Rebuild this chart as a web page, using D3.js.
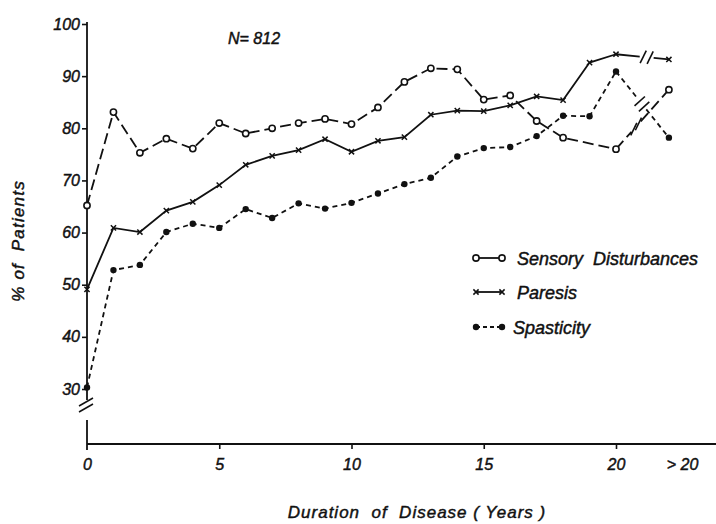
<!DOCTYPE html>
<html>
<head>
<meta charset="utf-8">
<script src="https://cdn.jsdelivr.net/npm/d3@7/dist/d3.min.js"></script>
<style>
  body { margin: 0; background: #fff; }
  text { font-family: "Liberation Sans", Arial, sans-serif; font-style: italic; fill: #111; }
  .heavy { stroke: #111; stroke-width: 0.45px; }
</style>
</head>
<body>
<svg id="chart" width="716" height="524"></svg>
<script>
// Years of disease duration; the last column stands for "> 20"
const years = [0, 1, 2, 3, 4, 5, 6, 7, 8, 9, 10, 11, 12, 13, 14, 15, 16, 17, 18, 19, 20, 22];
const xTickValues = [0, 5, 10, 15, 20, 22.5];
const xTickLabels = ["0", "5", "10", "15", "20", "> 20"];
const yTickValues = [30, 40, 50, 60, 70, 80, 90, 100];

// Percent of patients showing each symptom
const sensory = [65.2, 83.1, 75.3, 78.0, 76.1, 81.0, 79.0, 80.0, 81.0, 81.8, 80.8, 84.0, 88.9, 91.5, 91.3,
                 85.5, 86.3, 81.4, 78.2, null, 76.0, 87.4];
const paresis = [49.1, 60.9, 60.1, 64.2, 65.9, 69.1, 73.0, 74.7, 75.8, 77.9, 75.5, 77.6, 78.3, 82.6, 83.4,
                 83.3, 84.4, 86.1, 85.4, 92.6, 94.2, 93.2];
const spasticity = [30.3, 52.8, 53.8, 60.1, 61.7, 60.9, 64.5, 62.8, 65.6, 64.6, 65.7, 67.5, 69.3, 70.5, 74.6,
                    76.2, 76.4, 78.5, 82.4, 82.3, 90.9, 78.2];

const seriesNames = ["Sensory  Disturbances", "Paresis", "Spasticity"];

const svg = d3.select("#chart");
const x = d3.scaleLinear().domain([0, 20]).range([87, 616]);
const y = d3.scaleLinear().domain([30, 100]).range([389, 24]);
const baseY = 444;

const series = [
  { name: seriesNames[0], values: sensory, dash: "11,5", legendDash: null, marker: "open", breakT: 0.38, markAngle: -64 },
  { name: seriesNames[1], values: paresis, dash: null, legendDash: null, marker: "cross", breakT: 0.58, markAngle: -64 },
  { name: seriesNames[2], values: spasticity, dash: "5,4", legendDash: "4,3", marker: "dot", breakT: 0.49, markAngle: -42 }
];

// ---- axes ----
const yAxis = d3.axisLeft(y).tickValues(yTickValues).tickSize(5).tickPadding(2);
const gy = svg.append("g").attr("transform", `translate(${x(0)},0)`).call(yAxis);
gy.select(".domain").remove();
gy.selectAll(".tick line").attr("stroke", "#111").attr("stroke-width", 1.6);
gy.selectAll(".tick text").attr("font-size", 16).attr("font-family", null)
  .attr("class", "heavy").style("font-style", "italic");

// vertical axis with a break below 30
svg.append("line").attr("x1", x(0)).attr("x2", x(0)).attr("y1", 22).attr("y2", 400)
  .attr("stroke", "#111").attr("stroke-width", 1.8);
svg.append("line").attr("x1", x(0)).attr("x2", x(0)).attr("y1", 420).attr("y2", 450)
  .attr("stroke", "#111").attr("stroke-width", 1.8);
[0, 6].forEach(off => {
  svg.append("line")
    .attr("x1", x(0) - 8).attr("y1", 406 + off)
    .attr("x2", x(0) + 6).attr("y2", 398 + off)
    .attr("stroke", "#111").attr("stroke-width", 1.6);
});

const xAxis = d3.axisBottom(x).tickValues(xTickValues)
  .tickFormat((d, i) => xTickLabels[i]).tickSize(5).tickPadding(10);
const gx = svg.append("g").attr("transform", `translate(0,${baseY})`).call(xAxis);
gx.select(".domain").remove();
gx.selectAll(".tick line").attr("stroke", "#111").attr("stroke-width", 1.6)
  .attr("opacity", d => (d === 0 || d > 20) ? 0 : 1);
gx.selectAll(".tick text").attr("font-size", 16).attr("font-family", null)
  .attr("class", "heavy").style("font-style", "italic");
svg.append("line").attr("x1", x(0)).attr("x2", 716).attr("y1", baseY).attr("y2", baseY)
  .attr("stroke", "#111").attr("stroke-width", 1.8);

// ---- titles ----
svg.append("text").attr("x", 228).attr("y", 44).attr("font-size", 16).attr("class", "heavy").text("N= 812");
svg.append("text").attr("x", 417).attr("y", 518).attr("font-size", 17).attr("class", "heavy")
  .attr("text-anchor", "middle").style("letter-spacing", "1px").attr("xml:space", "preserve")
  .text("Duration  of  Disease ( Years )");
svg.append("text").attr("transform", "translate(24,241) rotate(-90)").attr("font-size", 17).attr("class", "heavy")
  .attr("text-anchor", "middle").style("letter-spacing", "1.2px").attr("xml:space", "preserve")
  .text("% of  Patients");

// ---- data lines ----
const line = d3.line();
function drawMarker(g, px, py, type) {
  if (type === "open") {
    g.append("circle").attr("cx", px).attr("cy", py).attr("r", 3.1)
      .attr("fill", "#fff").attr("stroke", "#111").attr("stroke-width", 1.6);
  } else if (type === "dot") {
    g.append("circle").attr("cx", px).attr("cy", py).attr("r", 3.2).attr("fill", "#111");
  } else {
    const s = 2.6;
    g.append("path").attr("d", `M${px - s},${py - s}L${px + s},${py + s}M${px - s},${py + s}L${px + s},${py - s}`)
      .attr("stroke", "#111").attr("stroke-width", 1.5);
  }
}

series.forEach(s => {
  const g = svg.append("g");
  const pts = years.map((yr, i) => ({ yr, v: s.values[i] })).filter(d => d.v !== null);
  const main = pts.filter(d => d.yr <= 20).map(d => [x(d.yr), y(d.v)]);
  const a = [x(20), y(s.values[years.indexOf(20)])];
  const b = [x(22), y(s.values[years.indexOf(22)])];
  const dx = b[0] - a[0], dy = b[1] - a[1];
  const len = Math.hypot(dx, dy);
  const ux = dx / len, uy = dy / len;
  const c = [a[0] + dx * s.breakT, a[1] + dy * s.breakT];
  const gap = 7;
  const pieces = [main, [a, [c[0] - ux * gap, c[1] - uy * gap]], [[c[0] + ux * gap, c[1] + uy * gap], b]];
  pieces.forEach(p => {
    g.append("path").attr("d", line(p)).attr("fill", "none").attr("stroke", "#111")
      .attr("stroke-width", 1.8).attr("stroke-dasharray", s.dash);
  });
  // break marks on the last segment
  const ang = s.markAngle * Math.PI / 180;
  const mx = Math.cos(ang) * 7, my = Math.sin(ang) * 7;
  [-3.5, 3.5].forEach(o => {
    const cx = c[0] + ux * o, cy = c[1] + uy * o;
    g.append("line").attr("x1", cx - mx).attr("y1", cy - my).attr("x2", cx + mx).attr("y2", cy + my)
      .attr("stroke", "#111").attr("stroke-width", 1.6);
  });
  pts.forEach(d => drawMarker(g, x(d.yr), y(d.v), s.marker));
});

// ---- legend ----
const legendY = [258, 292, 327];
series.forEach((s, i) => {
  const g = svg.append("g");
  const ly = legendY[i];
  g.append("line").attr("x1", 476).attr("x2", 502).attr("y1", ly).attr("y2", ly)
    .attr("stroke", "#111").attr("stroke-width", 1.8).attr("stroke-dasharray", s.legendDash);
  drawMarker(g, 476, ly, s.marker);
  drawMarker(g, 502, ly, s.marker);
  g.append("text").attr("x", i === 2 ? 513 : 517).attr("y", ly + 7).attr("font-size", 18)
    .attr("class", "heavy").attr("xml:space", "preserve").text(s.name);
});
</script>
</body>
</html>
